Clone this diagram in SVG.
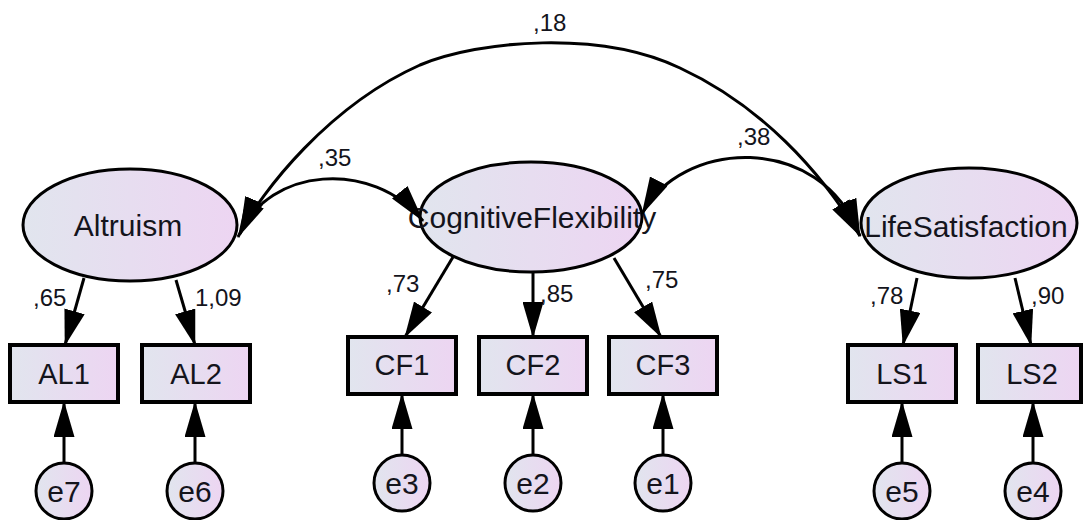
<svg xmlns="http://www.w3.org/2000/svg" width="1083" height="520" viewBox="0 0 1083 520">
  <defs>
    <linearGradient id="fillGrad" x1="0" y1="0" x2="1" y2="0">
      <stop offset="0" stop-color="#e1e5ee"/>
      <stop offset="1" stop-color="#edd5f2"/>
    </linearGradient>
    <marker id="arrow" markerUnits="userSpaceOnUse" markerWidth="36" markerHeight="21" viewBox="0 0 36 21" refX="35" refY="10.5" orient="auto-start-reverse">
      <path d="M0,0 L36,10.5 L0,21 z" fill="#000"/>
    </marker>
    <marker id="covArrow" markerUnits="userSpaceOnUse" markerWidth="38" markerHeight="20" viewBox="0 0 38 20" refX="37" refY="10" orient="auto-start-reverse">
      <path d="M0,0 L38,10 L0,20 z" fill="#000"/>
    </marker>
  </defs>
  <style>
    .latent { fill: url(#fillGrad); stroke: #000; stroke-width: 3; }
    .observed { fill: url(#fillGrad); stroke: #000; stroke-width: 4; }
    .error { fill: url(#fillGrad); stroke: #000; stroke-width: 3; }
    .path { stroke: #000; stroke-width: 3; fill: none; marker-end: url(#arrow); }
    .cov { stroke: #000; stroke-width: 3; fill: none; marker-start: url(#covArrow); marker-end: url(#covArrow); }
    .lbl-latent { font-family: "Liberation Sans", Arial, sans-serif; font-size: 30px; fill: #14141c; text-anchor: middle; }
    .lbl-obs { font-family: "Liberation Sans", Arial, sans-serif; font-size: 29px; fill: #14141c; text-anchor: middle; }
    .lbl-err { font-family: "Liberation Sans", Arial, sans-serif; font-size: 30px; fill: #14141c; text-anchor: middle; }
    .coef { font-family: "Liberation Sans", Arial, sans-serif; font-size: 24px; fill: #14141c; }
  </style>

  <rect x="0" y="0" width="1083" height="520" fill="#fff"/>

  <!-- latent factors -->
  <g id="Altruism">
    <ellipse class="latent" cx="130" cy="225" rx="107" ry="56"/>
    <text class="lbl-latent" x="128" y="236">Altruism</text>
  </g>
  <g id="CognitiveFlexibility">
    <ellipse class="latent" cx="531" cy="217" rx="111" ry="55"/>
    <text class="lbl-latent" x="532" y="228">CognitiveFlexibility</text>
  </g>
  <g id="LifeSatisfaction">
    <ellipse class="latent" cx="969" cy="223" rx="108" ry="55"/>
    <text class="lbl-latent" x="966" y="237">LifeSatisfaction</text>
  </g>

  <!-- observed indicators -->
  <g id="AL1">
    <rect class="observed" x="10" y="345" width="108" height="57"/>
    <text class="lbl-obs" x="64" y="384">AL1</text>
  </g>
  <g id="AL2">
    <rect class="observed" x="142" y="345" width="108" height="57"/>
    <text class="lbl-obs" x="196" y="384">AL2</text>
  </g>
  <g id="CF1">
    <rect class="observed" x="348" y="337" width="108" height="57"/>
    <text class="lbl-obs" x="402" y="375">CF1</text>
  </g>
  <g id="CF2">
    <rect class="observed" x="479" y="337" width="108" height="57"/>
    <text class="lbl-obs" x="533" y="375">CF2</text>
  </g>
  <g id="CF3">
    <rect class="observed" x="609" y="337" width="108" height="57"/>
    <text class="lbl-obs" x="663" y="375">CF3</text>
  </g>
  <g id="LS1">
    <rect class="observed" x="848" y="345" width="108" height="57"/>
    <text class="lbl-obs" x="902" y="384">LS1</text>
  </g>
  <g id="LS2">
    <rect class="observed" x="978" y="345" width="103" height="57"/>
    <text class="lbl-obs" x="1032" y="384">LS2</text>
  </g>

  <!-- error terms -->
  <g id="e7">
    <circle class="error" cx="64" cy="491" r="28"/>
    <text class="lbl-err" x="64" y="502">e7</text>
  </g>
  <g id="e6">
    <circle class="error" cx="195" cy="491" r="28"/>
    <text class="lbl-err" x="195" y="502">e6</text>
  </g>
  <g id="e3">
    <circle class="error" cx="402" cy="483" r="28"/>
    <text class="lbl-err" x="402" y="494">e3</text>
  </g>
  <g id="e2">
    <circle class="error" cx="533" cy="483" r="28"/>
    <text class="lbl-err" x="533" y="494">e2</text>
  </g>
  <g id="e1">
    <circle class="error" cx="663" cy="483" r="28"/>
    <text class="lbl-err" x="663" y="494">e1</text>
  </g>
  <g id="e5">
    <circle class="error" cx="902" cy="491" r="28"/>
    <text class="lbl-err" x="902" y="502">e5</text>
  </g>
  <g id="e4">
    <circle class="error" cx="1033" cy="491" r="28"/>
    <text class="lbl-err" x="1033" y="502">e4</text>
  </g>

  <!-- connectors -->
  <g id="connectors">
    <!-- factor loadings -->
    <line class="path" x1="84" y1="278" x2="65" y2="345"/>
    <line class="path" x1="176" y1="280" x2="195" y2="345"/>
    <line class="path" x1="453" y1="257" x2="405" y2="337"/>
    <line class="path" x1="533" y1="272" x2="533" y2="337"/>
    <line class="path" x1="614" y1="258" x2="661" y2="337"/>
    <line class="path" x1="917" y1="278" x2="903" y2="345"/>
    <line class="path" x1="1015" y1="278" x2="1031" y2="345"/>
    <!-- error paths -->
    <line class="path" x1="64" y1="463" x2="64" y2="402"/>
    <line class="path" x1="195" y1="463" x2="195" y2="402"/>
    <line class="path" x1="402" y1="455" x2="402" y2="394"/>
    <line class="path" x1="533" y1="455" x2="533" y2="394"/>
    <line class="path" x1="663" y1="455" x2="663" y2="394"/>
    <line class="path" x1="902" y1="463" x2="902" y2="402"/>
    <line class="path" x1="1033" y1="463" x2="1033" y2="402"/>
    <!-- covariances -->
    <path class="cov" d="M238,237 C262,190 330,105 420,65 C480,40 600,30 680,68 C760,105 820,170 860,236"/>
    <path class="cov" d="M240,234 C268,168 372,158 423,221"/>
    <path class="cov" d="M642,214 C680,140 820,130 860,236"/>
  </g>

  <!-- estimates -->
  <g id="estimates">
    <text class="coef" x="533" y="31">,18</text>
    <text class="coef" x="318" y="166">,35</text>
    <text class="coef" x="737" y="145">,38</text>
    <text class="coef" x="33" y="306">,65</text>
    <text class="coef" x="195" y="306">1,09</text>
    <text class="coef" x="386" y="292">,73</text>
    <text class="coef" x="540" y="302">,85</text>
    <text class="coef" x="645" y="288">,75</text>
    <text class="coef" x="870" y="304">,78</text>
    <text class="coef" x="1031" y="304">,90</text>
  </g>
</svg>
